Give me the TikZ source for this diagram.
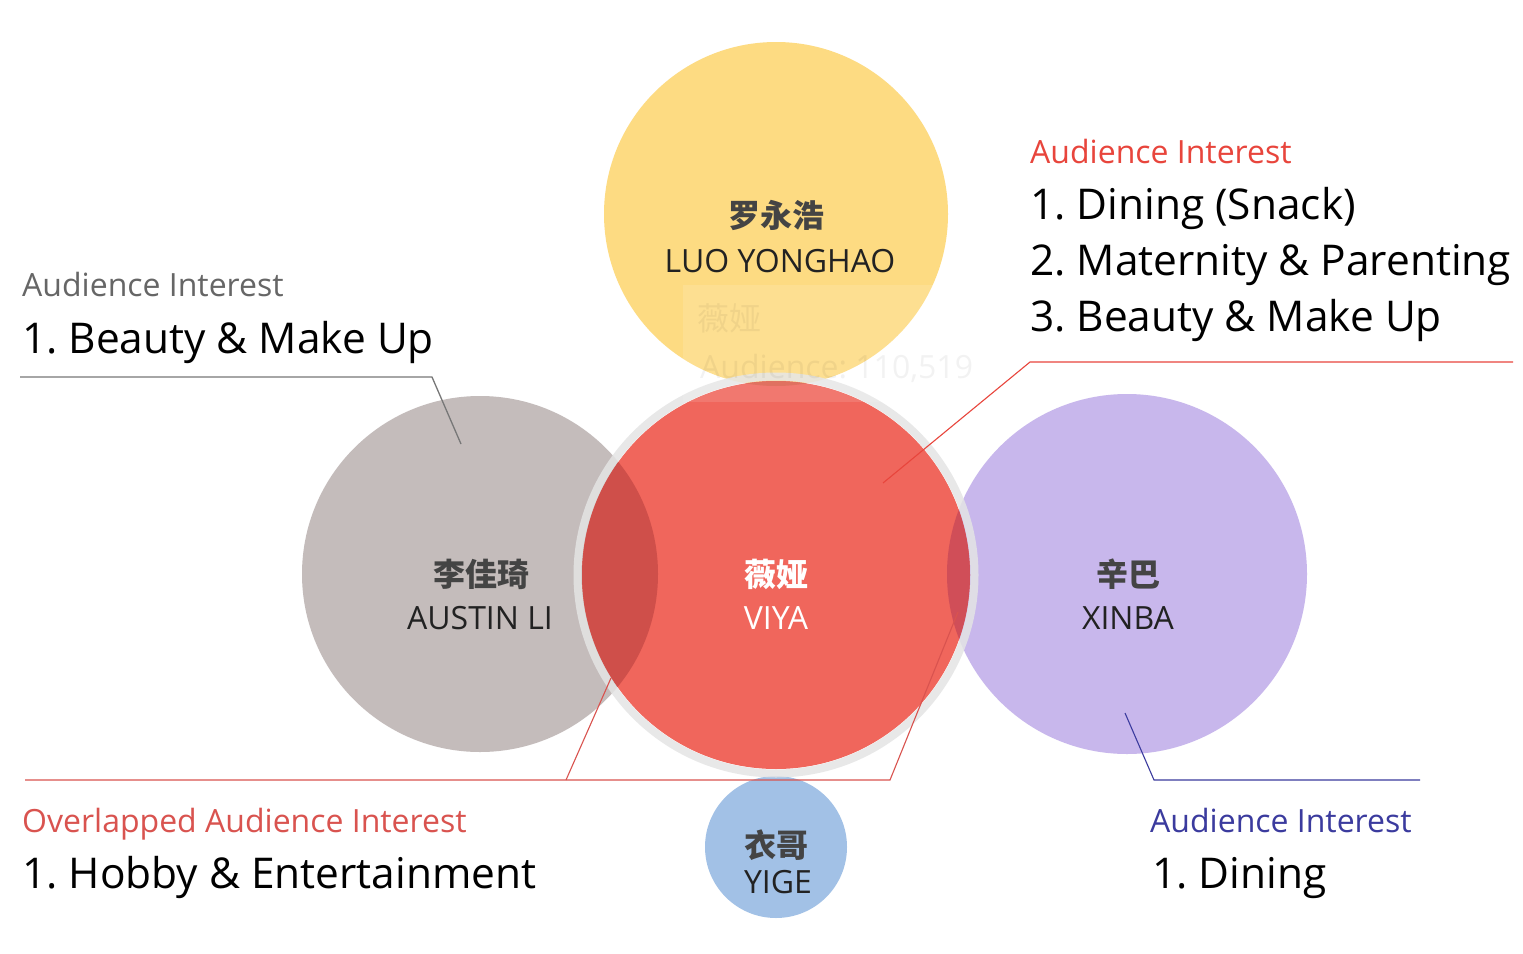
\documentclass[tikz,border=0pt]{standalone}
\usepackage{fontspec}
\setmainfont{Open Sans}
\newfontfamily\cjk{Noto Sans CJK SC}
\frenchspacing
\definecolor{cyellow}{HTML}{FDDB82}
\definecolor{cgray}{HTML}{C4BCBB}
\definecolor{cred}{HTML}{F0665C}
\definecolor{cpurple}{HTML}{C8B7EC}
\definecolor{cblue}{HTML}{A2C1E6}
\definecolor{ovgray}{HTML}{CF4F4A}
\definecolor{ovpurple}{HTML}{D04E58}
\definecolor{ovyellow}{HTML}{DC5E4A}
\definecolor{ringc}{HTML}{E4E4E4}
\definecolor{txtred}{HTML}{E8453C}
\definecolor{txtred2}{HTML}{D9534F}
\definecolor{txtblue}{HTML}{3B3B9E}
\definecolor{txtgray}{HTML}{666666}
\definecolor{linegray}{HTML}{777777}
\definecolor{cnname}{HTML}{444444}
\definecolor{enname}{HTML}{222222}
\begin{document}
\frenchspacing
\begin{tikzpicture}[x=1pt,y=-1pt,
  bubble/.style={circle,inner sep=0pt,draw=none},
  cnlabel/.style={inner sep=0pt,text=cnname,font=\cjk\bfseries\fontsize{32}{37}\selectfont},
  enlabel/.style={inner sep=0pt,anchor=base,text=enname,font=\fontsize{32}{38}\selectfont},
  headlabel/.style={inner sep=0pt,anchor=base west,font=\fontsize{32}{38}\selectfont},
  itemlabel/.style={inner sep=0pt,anchor=base west,text=black,font=\fontsize{42.4}{50}\selectfont},
  leader/.style={line width=1.3pt}]
\useasboundingbox (0,0) rectangle (1523,953);
\fill[white] (0,0) rectangle (1523,953);

% circles
\node[bubble,fill=cyellow,minimum size=344pt] (luo) at (776,214) {};
\node[bubble,fill=cgray,minimum size=356pt] (austin) at (480,574) {};
\node[bubble,fill=cpurple,minimum size=360pt] (xinba) at (1127,574) {};
\node[bubble,fill=cblue,minimum size=142pt] (yige) at (776,847) {};
\node[bubble,fill=cred,minimum size=388pt] (viya) at (776,575) {};

% overlaps
\begin{scope}
  \clip (776,575) circle[radius=194pt];
  \fill[ovgray] (480,574) circle[radius=178pt];
  \fill[ovpurple] (1127,574) circle[radius=180pt];
  \fill[ovyellow] (776,214) circle[radius=172pt];
\end{scope}
\draw[ringc,opacity=0.85,line width=8pt] (776,575) circle[radius=198.5pt];

% faint tooltip
\fill[white,opacity=0.12] (683,285) rectangle (985,402);
\node[inner sep=0pt,anchor=west,text opacity=0.05,font=\cjk\fontsize{32}{36}\selectfont] (tipcn) at (697,318) {薇娅};
\node[inner sep=0pt,anchor=base west,text opacity=0.05,font=\fontsize{32}{36}\selectfont] (tipen) at (700,378) {Audience: 110,519};

% names
\node[cnlabel] (luocn) at (776,215) {罗永浩};
\node[enlabel] (luoen) at (780,272) {LUO YONGHAO};
\node[cnlabel] (austincn) at (481,574) {李佳琦};
\node[enlabel] (austinen) at (480,629) {AUSTIN LI};
\node[cnlabel,text=white] (viyacn) at (776,574) {薇娅};
\node[enlabel,text=white] (viyaen) at (776,629) {VIYA};
\node[cnlabel] (xinbacn) at (1128,574) {辛巴};
\node[enlabel] (xinbaen) at (1128,629) {XINBA};
\node[cnlabel] (yigecn) at (776,845) {衣哥};
\node[enlabel] (yigeen) at (778,893) {YIGE};

% left annotation
\node[headlabel,text=txtgray] (lhead) at (22,296) {Audience Interest};
\node[itemlabel] (litem) at (22,353) {1. Beauty \& Make Up};
\coordinate (la) at (20,377);
\coordinate (lb) at (432,377);
\coordinate (lc) at (461,444);
\draw[leader,linegray] (la) -- (lb) -- (lc);

% top right annotation
\node[headlabel,text=txtred] (rhead) at (1030,163) {Audience Interest};
\node[itemlabel] (ritem1) at (1030,219) {1. Dining (Snack)};
\node[itemlabel] (ritem2) at (1030,275) {2. Maternity \& Parenting};
\node[itemlabel] (ritem3) at (1030,331) {3. Beauty \& Make Up};
\coordinate (ra) at (1513,362);
\coordinate (rb) at (1030,362);
\coordinate (rc) at (883,483);
\draw[leader,txtred,line width=1.1pt] (ra) -- (rb) -- (rc);

% bottom left annotation
\node[headlabel,text=txtred2] (bhead) at (22,832) {Overlapped Audience Interest};
\node[itemlabel] (bitem) at (22,888) {1. Hobby \& Entertainment};
\coordinate (ba) at (25,780);
\coordinate (bm) at (566,780);
\coordinate (bb) at (890,780);
\coordinate (bc) at (958,612);
\coordinate (bd) at (611,678);
\draw[leader,txtred2,line width=1.1pt] (ba) -- (bb) -- (bc);
\draw[leader,txtred2,line width=1.1pt] (bm) -- (bd);

% bottom right annotation
\node[headlabel,text=txtblue] (xhead) at (1150,832) {Audience Interest};
\node[itemlabel] (xitem) at (1152,888) {1. Dining};
\coordinate (xa) at (1125,713);
\coordinate (xb) at (1154,780);
\coordinate (xc) at (1420,780);
\draw[leader,txtblue,line width=1.1pt] (xa) -- (xb) -- (xc);
\end{tikzpicture}
\end{document}
